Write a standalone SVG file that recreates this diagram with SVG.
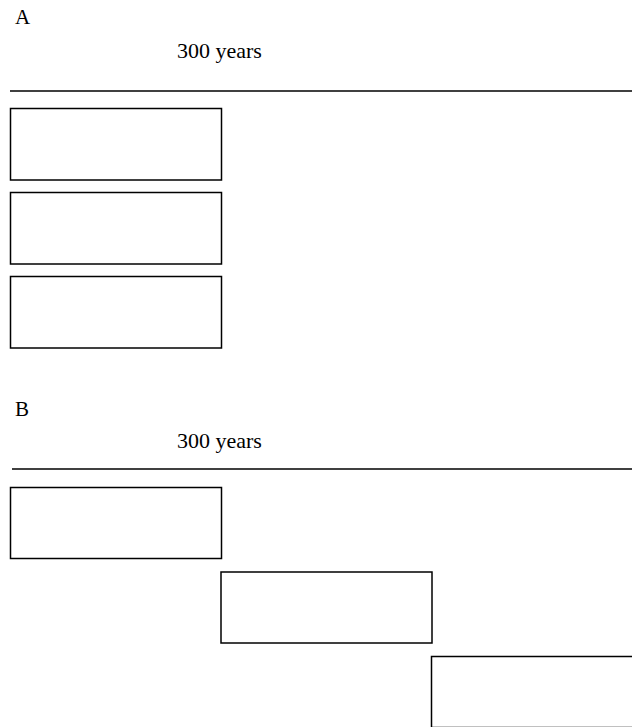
<svg xmlns="http://www.w3.org/2000/svg" width="632" height="727" viewBox="0 0 632 727">
<style>
text{font-family:"Liberation Serif","Times New Roman",serif;font-size:21px;fill:#000}
.span{font-size:22px}
.box{fill:#fff;stroke:#000;stroke-width:1.5}
.rule{stroke:#000;stroke-width:1.5}
</style>
<rect width="632" height="727" fill="#fff"/>
<g id="panelA">
<text id="labelA" x="15" y="24">A</text>
<text id="spanA" class="span" x="177" y="58">300 years</text>
<line class="rule" x1="10" y1="91" x2="632" y2="91"/>
</g>
<g id="A1"><rect class="box" x="10.5" y="108.5" width="211" height="71.5"/></g>
<g id="A2"><rect class="box" x="10.5" y="192.5" width="211" height="71.5"/></g>
<g id="A3"><rect class="box" x="10.5" y="276.5" width="211" height="71.5"/></g>
<g id="panelB">
<text id="labelB" x="15" y="416">B</text>
<text id="spanB" class="span" x="177" y="448">300 years</text>
<line class="rule" x1="12" y1="469" x2="632" y2="469"/>
</g>
<g id="B1"><rect class="box" x="10.5" y="487.5" width="211" height="71"/></g>
<g id="B2"><rect class="box" x="221" y="572" width="211" height="71"/></g>
<g id="B3"><rect class="box" x="431.5" y="656.5" width="211" height="71"/></g>
<g id="connectors"></g>
</svg>
